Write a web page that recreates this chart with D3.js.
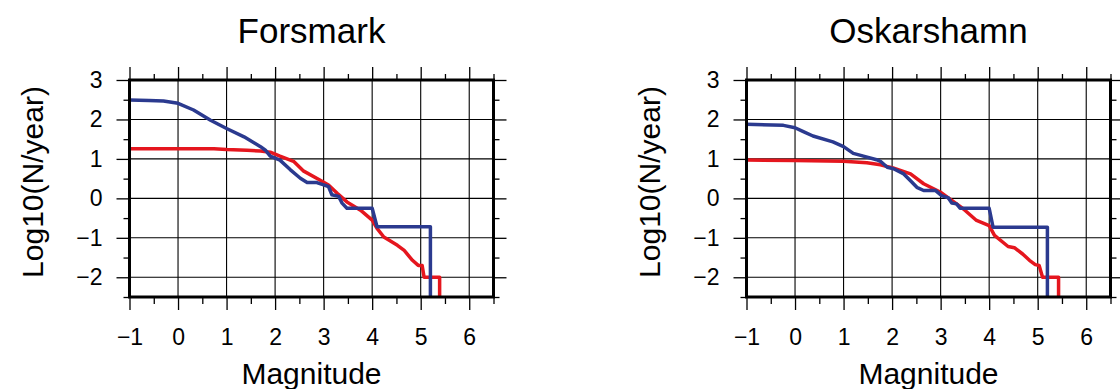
<!DOCTYPE html>
<html>
<head>
<meta charset="utf-8">
<script src="https://cdn.jsdelivr.net/npm/d3@7"></script>
<style>
  body { margin: 0; background: white; }
  text { font-family: "Liberation Sans", Arial, Helvetica, sans-serif; fill: black; }
</style>
</head>
<body>
<div id="chart"></div>
<script>
// magnitude / log10 rate pairs
const forsmarkBlue = [[-1,2.49],[-0.6,2.48],[-0.3,2.47],[0,2.41],[0.32,2.24],[0.67,1.98],[1.0,1.77],[1.36,1.56],[1.7,1.31],[1.8,1.22],[1.9,1.07],[2.1,0.97],[2.31,0.73],[2.52,0.51],[2.66,0.40],[2.86,0.40],[3.0,0.34],[3.1,0.30],[3.17,0.09],[3.31,0.05],[3.38,-0.12],[3.48,-0.25],[4.0,-0.25],[4.1,-0.72],[5.2,-0.72],[5.2,-3]]
const forsmarkRed = [[-1,1.26],[0.74,1.26],[1.0,1.24],[1.42,1.22],[1.7,1.2],[1.9,1.17],[2.1,1.07],[2.38,0.94],[2.59,0.69],[2.93,0.46],[3.1,0.34],[3.28,0.13],[3.48,-0.09],[3.76,-0.30],[4.0,-0.55],[4.1,-0.76],[4.24,-0.98],[4.52,-1.19],[4.66,-1.32],[4.83,-1.57],[4.95,-1.70],[5.03,-1.70],[5.07,-2.0],[5.39,-2.0],[5.39,-3]]
const oskarshamnBlue = [[-1,1.88],[-0.24,1.85],[0,1.79],[0.16,1.70],[0.37,1.58],[0.78,1.43],[1.0,1.31],[1.2,1.14],[1.41,1.07],[1.68,0.98],[1.76,0.94],[1.9,0.79],[2.03,0.75],[2.24,0.62],[2.41,0.41],[2.51,0.28],[2.65,0.20],[2.89,0.20],[3.02,0.07],[3.16,0.01],[3.23,-0.12],[3.33,-0.14],[3.40,-0.25],[4.0,-0.25],[4.08,-0.73],[5.2,-0.73],[5.2,-3]]
const oskarshamnRed = [[-1,0.97],[0,0.96],[1.0,0.94],[1.48,0.9],[1.76,0.85],[2.02,0.77],[2.38,0.62],[2.65,0.37],[2.99,0.16],[3.23,-0.05],[3.47,-0.27],[3.74,-0.56],[4.0,-0.69],[4.11,-0.94],[4.39,-1.22],[4.52,-1.25],[4.69,-1.41],[4.83,-1.57],[4.95,-1.68],[5.03,-1.70],[5.1,-2.0],[5.43,-2.0],[5.43,-3]]

const titles = ["Forsmark", "Oskarshamn"]
const xMajor = [-1, 0, 1, 2, 3, 4, 5, 6]
const xMinor = [-0.5, 0.5, 1.5, 2.5, 3.5, 4.5, 5.5, 6.5]
const yMajor = [-2, -1, 0, 1, 2, 3]
const yMinor = [-2.5, -1.5, -0.5, 0.5, 1.5, 2.5]

const width = 1120, height = 389
const plotW = 364, plotH = 217
const panelLeft = [129.5, 746.5]
const plotTop = 80

const svg = d3.select("#chart")
    .append("svg")
        .attr("width", width)
        .attr("height", height)

const x = d3.scaleLinear().domain([-1, 6.5]).range([0, plotW])
const y = d3.scaleLinear().domain([-2.5, 3]).range([plotH, 0])

const line = d3.line()
    .x(d => x(d[0]))
    .y(d => y(d[1]))

const panels = [
    { title: titles[0], blue: forsmarkBlue, red: forsmarkRed },
    { title: titles[1], blue: oskarshamnBlue, red: oskarshamnRed }
]

panels.forEach((p, i) => {
    const g = svg.append("g")
        .attr("transform", `translate(${panelLeft[i]},${plotTop})`)

    // grid at every whole unit
    g.append("g").selectAll("line")
        .data(xMajor.slice(1))
        .join("line")
            .attr("x1", d => x(d)).attr("x2", d => x(d))
            .attr("y1", 0).attr("y2", plotH)
            .attr("stroke", "black").attr("stroke-width", 1.1)
    g.append("g").selectAll("line")
        .data(yMajor.slice(0, -1))
        .join("line")
            .attr("y1", d => y(d)).attr("y2", d => y(d))
            .attr("x1", 0).attr("x2", plotW)
            .attr("stroke", "black").attr("stroke-width", 1.1)

    // ticks on all four sides, majors with labels on bottom/left
    const fmt = d3.format("d")
    const axes = [
        [d3.axisBottom(x).tickValues(xMajor).tickSize(13).tickPadding(19).tickFormat(fmt), `translate(0,${plotH})`],
        [d3.axisBottom(x).tickValues(xMinor).tickSize(7).tickFormat(""), `translate(0,${plotH})`],
        [d3.axisTop(x).tickValues(xMajor).tickSize(13).tickFormat(""), null],
        [d3.axisTop(x).tickValues(xMinor).tickSize(6).tickFormat(""), null],
        [d3.axisLeft(y).tickValues(yMajor).tickSize(13).tickPadding(14).tickFormat(fmt), null],
        [d3.axisLeft(y).tickValues(yMinor).tickSize(6).tickFormat(""), null],
        [d3.axisRight(y).tickValues(yMajor).tickSize(13).tickFormat(""), `translate(${plotW},0)`],
        [d3.axisRight(y).tickValues(yMinor).tickSize(6).tickFormat(""), `translate(${plotW},0)`]
    ]
    axes.forEach(([axis, tr]) => {
        const a = g.append("g").call(axis)
        if (tr) a.attr("transform", tr)
        a.select(".domain").remove()
        a.selectAll("line").attr("stroke", "black").attr("stroke-width", 1.3)
        a.selectAll("text")
            .style("font-size", "23px")
            .style("font-family", '"Liberation Sans", Arial, sans-serif')
            .attr("fill", "black")
    })

    // curves, clipped to the frame
    g.append("clipPath").attr("id", "clip" + i)
        .append("rect").attr("width", plotW).attr("height", plotH)
    const curves = g.append("g").attr("clip-path", `url(#clip${i})`)
    curves.append("path")
        .attr("d", line(p.red))
        .attr("fill", "none")
        .attr("stroke", "#e5161e")
        .attr("stroke-width", 3.5)
        .attr("stroke-linejoin", "round")
    curves.append("path")
        .attr("d", line(p.blue))
        .attr("fill", "none")
        .attr("stroke", "#2b3a8f")
        .attr("stroke-width", 3.5)
        .attr("stroke-linejoin", "round")

    // heavy frame
    g.append("rect")
        .attr("width", plotW)
        .attr("height", plotH)
        .attr("fill", "none")
        .attr("stroke", "black")
        .attr("stroke-width", 3)

    g.append("text")
        .attr("x", plotW / 2)
        .attr("y", 43 - plotTop)
        .attr("text-anchor", "middle")
        .style("font-size", "35px")
        .text(p.title)

    g.append("text")
        .attr("x", plotW / 2)
        .attr("y", 384 - plotTop)
        .attr("text-anchor", "middle")
        .style("font-size", "30px")
        .text("Magnitude")

    g.append("text")
        .attr("transform", `translate(-87,${182 - plotTop}) rotate(-90)`)
        .attr("text-anchor", "middle")
        .style("font-size", "30px")
        .text("Log10(N/year)")
})
</script>
</body>
</html>
